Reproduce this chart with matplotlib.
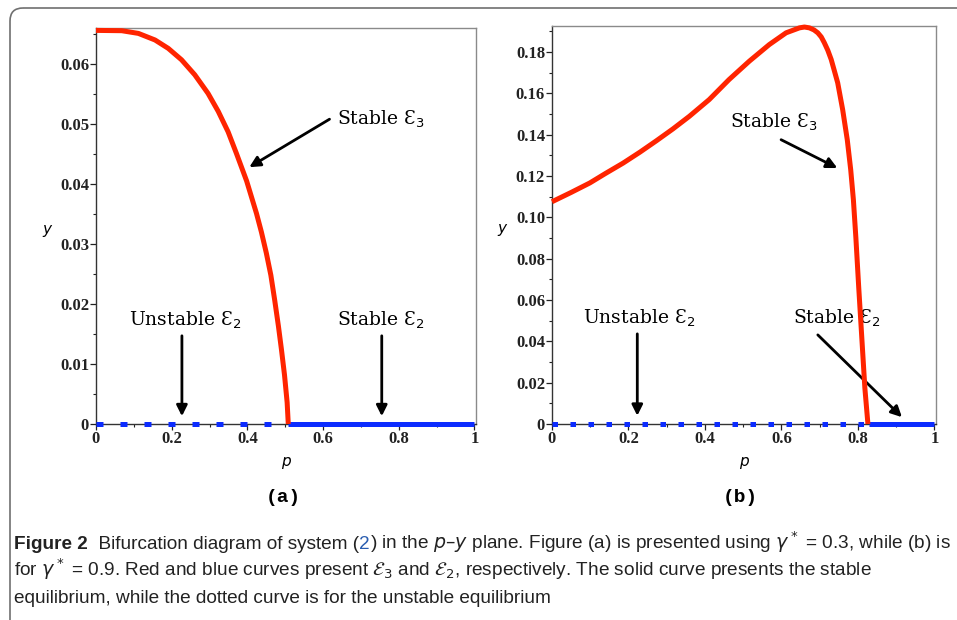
import matplotlib
matplotlib.use("Agg")
import matplotlib.pyplot as plt
from matplotlib.patches import FancyBboxPatch
from matplotlib.ticker import MultipleLocator

W, H, DPI = 957, 620, 100

# (a) gamma* = 0.3 : branch E3 and the switch point of E2
p_e3_a = [0.0, 0.068, 0.112, 0.156, 0.191, 0.226, 0.261, 0.296, 0.323, 0.349,
          0.371, 0.398, 0.424, 0.437, 0.45, 0.462, 0.472, 0.482, 0.49, 0.498,
          0.505, 0.508]
y_e3_a = [0.0656, 0.06555, 0.0651, 0.0640, 0.0626, 0.0607, 0.0582, 0.0551,
          0.0521, 0.0487, 0.0451, 0.0405, 0.0351, 0.0320, 0.0285, 0.0248,
          0.0207, 0.0163, 0.0124, 0.0082, 0.0036, 0.0]
p_crit_a = 0.508

# (b) gamma* = 0.9
p_e3_b = [0.0, 0.05, 0.099, 0.14, 0.186, 0.23, 0.273, 0.316, 0.359, 0.411,
          0.463, 0.516, 0.568, 0.612, 0.647, 0.66, 0.673, 0.685, 0.695, 0.704,
          0.712, 0.721, 0.730, 0.738, 0.747, 0.760, 0.772, 0.781, 0.788,
          0.7945, 0.802, 0.810, 0.818, 0.826]
y_e3_b = [0.1075, 0.112, 0.1166, 0.1212, 0.1262, 0.1315, 0.137, 0.1427,
          0.1488, 0.1569, 0.1666, 0.1755, 0.1835, 0.1892, 0.1916, 0.192,
          0.1916, 0.1906, 0.1892, 0.1872, 0.1844, 0.1808, 0.1763, 0.171,
          0.165, 0.152, 0.1375, 0.123, 0.1085, 0.0901, 0.0659, 0.0417,
          0.0174, 0.0]
p_crit_b = 0.83

RED = "#ff2400"
BLUE = "#0c2cff"
NOTE_FONT = dict(family="DejaVu Serif", size=13.5)
TICK_SIZE = 12

fig = plt.figure(figsize=(W / DPI, H / DPI), dpi=DPI)


def px_axes(x0, y0, x1, y1):
    return fig.add_axes([x0 / W, 1 - y1 / H, (x1 - x0) / W, (y1 - y0) / H])


# outer rounded frame, runs off the right and bottom edges
bg = fig.add_axes([0, 0, 1, 1])
bg.set_xlim(0, W)
bg.set_ylim(H, 0)
bg.axis("off")
bg.add_patch(FancyBboxPatch((10, 8), W + 40, H + 40,
                            boxstyle="round,pad=0,rounding_size=13",
                            fc="none", ec="#707070", lw=1.2))


def panel(ax, p, y, p_crit, ymax, ymajor, yminor, dashes, ylabel_x):
    ax.plot([0, p_crit], [0, 0], color=BLUE, lw=3.6, dashes=dashes,
            dash_capstyle="butt", clip_on=False, zorder=3)
    ax.plot([p_crit, 1], [0, 0], color=BLUE, lw=3.6, solid_capstyle="butt",
            clip_on=False, zorder=3)
    ax.plot(p, y, color=RED, lw=3.6, clip_on=False, zorder=4,
            solid_capstyle="butt", solid_joinstyle="round")
    ax.set_xlim(0, 1.004)
    ax.set_ylim(0, ymax)
    ax.xaxis.set_major_locator(MultipleLocator(0.2))
    ax.xaxis.set_minor_locator(MultipleLocator(0.1))
    ax.yaxis.set_major_locator(MultipleLocator(ymajor))
    ax.yaxis.set_minor_locator(MultipleLocator(yminor))
    ax.xaxis.set_major_formatter(lambda v, pos: "0" if v == 0 else
                                 ("1" if abs(v - 1) < 1e-9 else f"{v:.1f}"))
    ax.yaxis.set_major_formatter(lambda v, pos: "0" if v == 0 else f"{v:.2f}")
    ax.tick_params(which="major", length=4, width=0.9, pad=1, colors="#222",
                   labelsize=TICK_SIZE, labelfontfamily="Liberation Serif")
    ax.tick_params(which="minor", length=2.5, width=0.8, colors="#222")
    for side in ("top", "right"):
        ax.spines[side].set_color("#8a8a8a")
    for side in ("left", "bottom"):
        ax.spines[side].set_color("#333333")
    for s in ax.spines.values():
        s.set_linewidth(1.0)
    ax.set_xlabel("p", fontsize=11, style="italic", family="DejaVu Sans",
                  labelpad=5)
    ax.text(ylabel_x, 0.49, "y", transform=ax.transAxes, fontsize=11,
            style="italic", family="DejaVu Sans", ha="center", va="center")


def arrow(ax, tail, head):
    ax.annotate("", xy=head, xytext=tail,
                arrowprops=dict(arrowstyle="-|>", color="black", lw=2.0,
                                mutation_scale=16, shrinkA=0, shrinkB=0))


def note(ax, x, y, s):
    ax.text(x, y, s, ha="center", va="center", **NOTE_FONT)


# panel (a)
ax_a = px_axes(96, 28, 476, 424)
panel(ax_a, p_e3_a, y_e3_a, p_crit_a, 0.066, 0.01, 0.005, (1.4, 3.4), -0.13)
note(ax_a, 0.752, 0.0508, "Stable Ɛ$_3$")
arrow(ax_a, (0.617, 0.0508), (0.405, 0.0428))
note(ax_a, 0.235, 0.0172, "Unstable Ɛ$_2$")
arrow(ax_a, (0.227, 0.0147), (0.227, 0.0013))
note(ax_a, 0.752, 0.0172, "Stable Ɛ$_2$")
arrow(ax_a, (0.755, 0.0147), (0.755, 0.0013))

# panel (b)
ax_b = px_axes(552, 26, 936, 424)
panel(ax_b, p_e3_b, y_e3_b, p_crit_b, 0.1925, 0.02, 0.01, (1.1, 2.5), -0.13)
note(ax_b, 0.579, 0.1458, "Stable Ɛ$_3$")
arrow(ax_b, (0.599, 0.1375), (0.746, 0.1238))
note(ax_b, 0.228, 0.0513, "Unstable Ɛ$_2$")
arrow(ax_b, (0.223, 0.0436), (0.223, 0.0040))
note(ax_b, 0.745, 0.0513, "Stable Ɛ$_2$")
arrow(ax_b, (0.695, 0.0431), (0.915, 0.0033))

bg.text(283, 497, "(a)", ha="center", va="center", family="Liberation Mono",
        weight="bold", fontsize=14)
bg.text(740, 497, "(b)", ha="center", va="center", family="Liberation Mono",
        weight="bold", fontsize=14)

# caption, laid out piece by piece along each baseline
CAP = dict(family="Liberation Sans", fontsize=13.7, color="#222222")
renderer = fig.canvas.get_renderer()


def caption_line(x, y, pieces):
    for s, extra in pieces:
        kw = dict(CAP)
        kw.update(extra)
        t = bg.text(x, y, s, ha="left", va="baseline", **kw)
        x += t.get_window_extent(renderer).width


caption_line(14, 549, [
    ("Figure 2", {"weight": "bold"}),
    ("  Bifurcation diagram of system (", {}),
    ("2", {"color": "#2a5db0"}),
    (r") in the $p$–$y$ plane. Figure (a) is presented using $\gamma^*$ = 0.3,"
     r" while (b) is", {}),
])
caption_line(14, 576, [
    (r"for $\gamma^*$ = 0.9. Red and blue curves present $\mathcal{E}_3$ and "
     r"$\mathcal{E}_2$, respectively. The solid curve presents the stable", {}),
])
caption_line(14, 603, [
    ("equilibrium, while the dotted curve is for the unstable equilibrium", {}),
])

# bold tick labels
fig.canvas.draw()
for ax in (ax_a, ax_b):
    for lab in ax.get_xticklabels() + ax.get_yticklabels():
        lab.set_fontweight("bold")
        lab.set_fontsize(TICK_SIZE)

fig.savefig("out.png", dpi=DPI)
